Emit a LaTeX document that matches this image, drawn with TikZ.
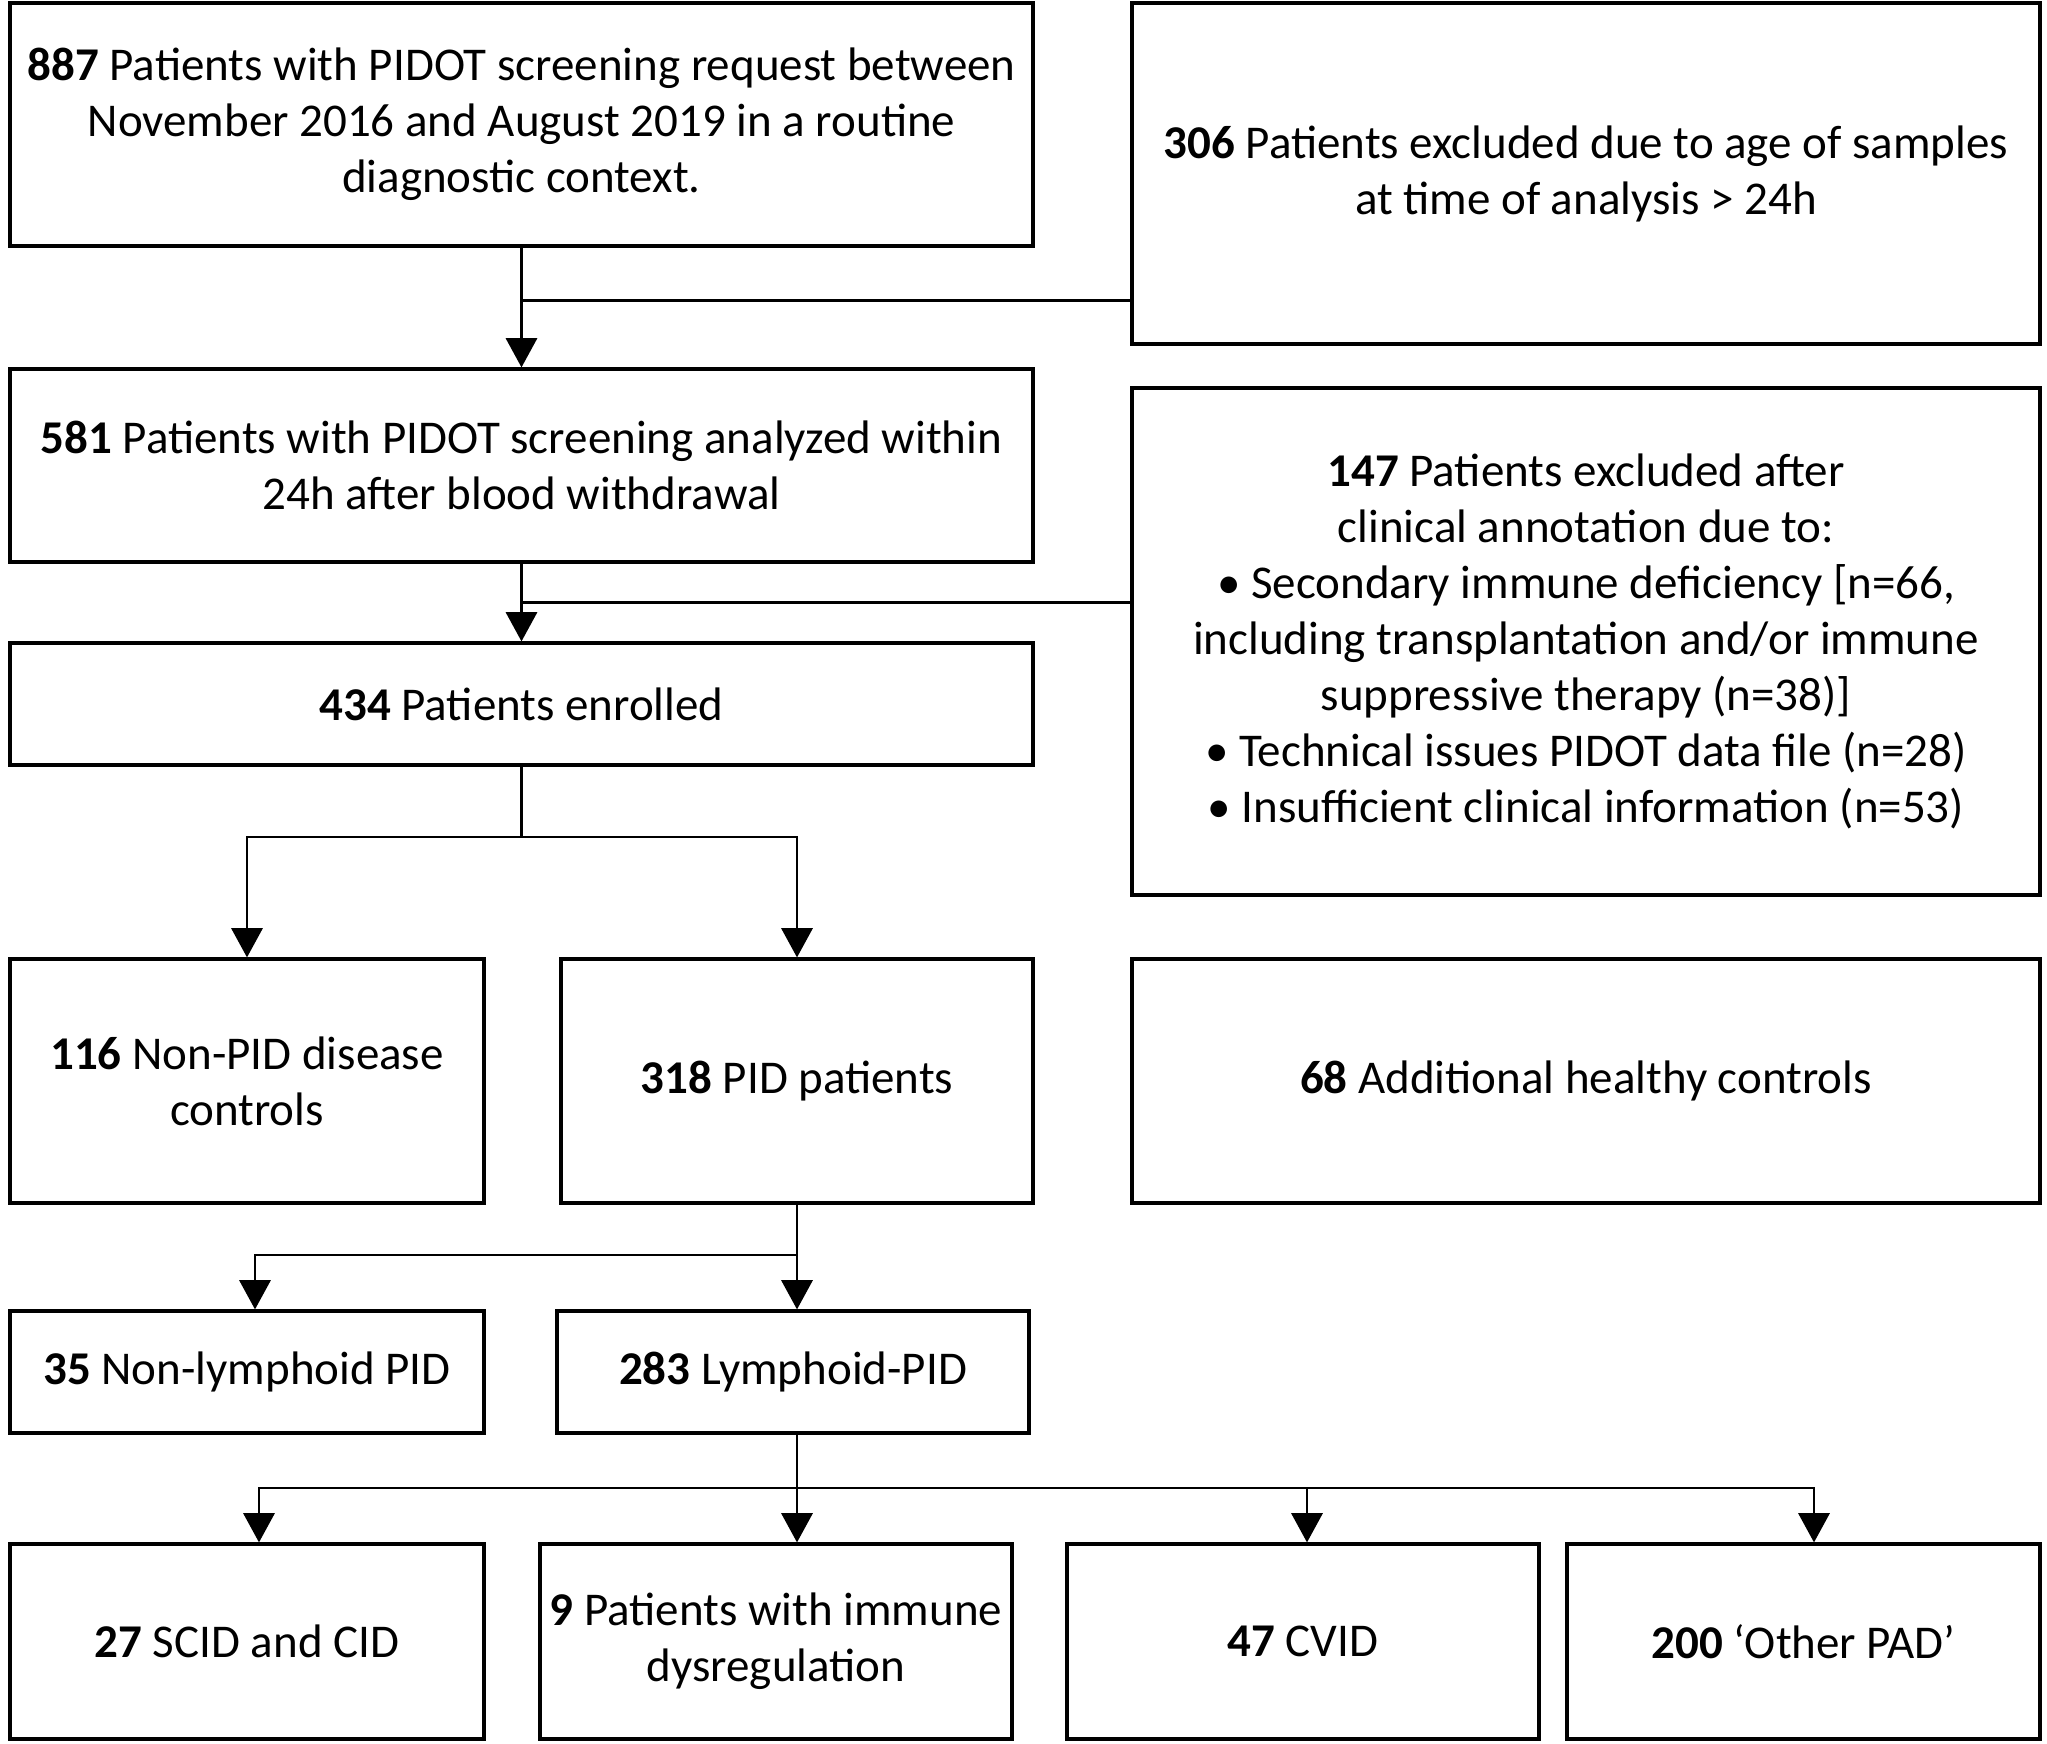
\documentclass[tikz,border=0pt]{standalone}
\usepackage{fontspec}
\setmainfont{Carlito}
\usetikzlibrary{arrows.meta,calc}
\begin{document}
\begin{tikzpicture}[x=0.25pt,y=-0.25pt,
    box/.style={shape=rectangle,draw=black,line width=0.8pt,align=center,inner sep=0pt,
        font=\fontsize{11.75}{14}\selectfont},
    arr/.style={line width=0.6pt,-{Triangle[length=7.3pt,width=7.8pt]}},
    ln/.style={line width=0.6pt}]
\useasboundingbox (0,0) rectangle (2047,1744);

                \node[box,minimum width=1023*0.25pt,minimum height=243*0.25pt] (b887) at (521.5,124.5) {\textbf{887} Patients with PIDOT screening request between\\November 2016 and August 2019 in a routine\\diagnostic context.};
                \node[box,minimum width=908*0.25pt,minimum height=341*0.25pt] (b306) at (1586,173.5) {\textbf{306} Patients excluded due to age of samples\\at time of analysis > 24h};
                \node[box,minimum width=1023*0.25pt,minimum height=193*0.25pt] (b581) at (521.5,465.5) {\textbf{581} Patients with PIDOT screening analyzed within\\24h after blood withdrawal};
                \node[box,minimum width=908*0.25pt,minimum height=507*0.25pt] (b147) at (1586,641.5) {\textbf{147} Patients excluded after\\clinical annotation due to:\\• Secondary immune deficiency [n=66,\\including transplantation and/or immune\\suppressive therapy (n=38)]\\• Technical issues PIDOT data file (n=28)\\• Insufficient clinical information (n=53)};
                \node[box,minimum width=1023*0.25pt,minimum height=122*0.25pt] (b434) at (521.5,704) {\textbf{434} Patients enrolled};
                \node[box,minimum width=474*0.25pt,minimum height=244*0.25pt] (b116) at (247,1081) {\textbf{116} Non-PID disease\\controls};
                \node[box,minimum width=472*0.25pt,minimum height=244*0.25pt] (b318) at (797,1081) {\textbf{318} PID patients};
                \node[box,minimum width=908*0.25pt,minimum height=244*0.25pt] (b68) at (1586,1081) {\textbf{68} Additional healthy controls};
                \node[box,minimum width=474*0.25pt,minimum height=122*0.25pt] (b35) at (247,1372) {\textbf{35} Non-lymphoid PID};
                \node[box,minimum width=472*0.25pt,minimum height=122*0.25pt] (b283) at (793,1372) {\textbf{283} Lymphoid-PID};
                \node[box,minimum width=474*0.25pt,minimum height=195*0.25pt] (b27) at (247,1641.5) {\textbf{27} SCID and CID};
                \node[box,minimum width=472*0.25pt,minimum height=195*0.25pt] (b9) at (776,1641.5) {\textbf{9} Patients with immune\\dysregulation};
                \node[box,minimum width=472*0.25pt,minimum height=195*0.25pt] (b47) at (1303,1641.5) {\textbf{47} CVID};
                \node[box,minimum width=473*0.25pt,minimum height=195*0.25pt] (b200) at (1803.5,1641.5) {\textbf{200} `Other PAD'};

                \coordinate (j1) at (521.5,300.6);
                \coordinate (j2) at (521.5,602.6);
                \coordinate (j3) at (521.5,837);
                \coordinate (j4) at (797,1255);
                \coordinate (j5) at (797,1488);

                \draw[arr] (b887) -- (b581);
                \draw[ln] (b306.west |- j1) -- (j1);

                \draw[arr] (b581) -- (b434);
                \draw[ln] (b147.west |- j2) -- (j2);

                \draw[ln] (b434.south) -- (j3);
                \draw[arr] (j3) -| (b116.north);
                \draw[arr] (j3) -| (b318.north);

                \draw[ln] (b318.south) -- (j4);
                \draw[arr] (j4) -| ($(b35.north)+(8,0)$);
                \draw[arr] (j4) -- (j4 |- b283.north);

                \draw[ln] (j5 |- b283.south) -- (j5);
                \draw[arr] (j5) -| ($(b27.north)+(12,0)$);
                \draw[arr] (j5) -- (j5 |- b9.north);
                \draw[arr] (j5) -| ($(b47.north)+(4,0)$);
                \draw[arr] (j5) -| ($(b200.north)+(10.5,0)$);
            \end{tikzpicture}
\end{document}
